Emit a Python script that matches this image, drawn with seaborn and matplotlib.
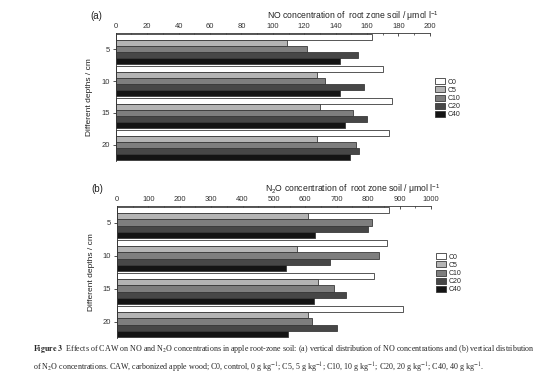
import pandas as pd
import matplotlib
matplotlib.use('Agg')
import matplotlib.pyplot as plt
import seaborn as sns
from matplotlib.ticker import MultipleLocator

# Data
depths = ['5', '10', '15', '20']
treatments = ['C0', 'C5', 'C10', 'C20', 'C40']
no_values = {
    'C0': [163, 170, 176, 174],
    'C5': [109, 128, 130, 128],
    'C10': [122, 133, 151, 153],
    'C20': [154, 158, 160, 155],
    'C40': [143, 143, 146, 149],
}
n2o_values = {
    'C0': [865, 860, 820, 910],
    'C5': [608, 572, 640, 608],
    'C10': [812, 835, 690, 620],
    'C20': [800, 678, 730, 700],
    'C40': [630, 538, 628, 545],
}
bar_colors = ['#ffffff', '#b4b4b4', '#7e7e7e', '#474747', '#141414']


def to_long(values):
    rows = []
    for t in treatments:
        for d, v in zip(depths, values[t]):
            rows.append({'depth': d, 'treatment': t, 'value': v})
    return pd.DataFrame(rows)


sns.set_style('ticks')
plt.rcParams['font.family'] = ['Liberation Sans', 'DejaVu Sans']
plt.rcParams['font.size'] = 5.5
plt.rcParams['mathtext.fontset'] = 'custom'
plt.rcParams['mathtext.rm'] = 'Liberation Sans'
plt.rcParams['mathtext.it'] = 'Liberation Sans:italic'
plt.rcParams['mathtext.bf'] = 'Liberation Sans:bold'

fig = plt.figure(figsize=(5.54, 3.76), dpi=100)
ax_a = fig.add_axes([0.209, 0.572, 0.567, 0.340])
ax_b = fig.add_axes([0.211, 0.101, 0.567, 0.351])

panels = [
    (ax_a, no_values, 200, 20, 10, 'NO concentration of  root zone soil / μmol l$^{-1}$', '(a)'),
    (ax_b, n2o_values, 1000, 100, 50, 'N$_2$O concentration of  root zone soil / μmol l$^{-1}$', '(b)'),
]

for ax, vals, xmax, major, minor, xlabel, tag in panels:
    df = to_long(vals)
    sns.barplot(data=df, y='depth', x='value', hue='treatment', order=depths,
                hue_order=treatments, palette=bar_colors, orient='h',
                width=0.93, edgecolor='#3a3a3a', linewidth=0.6, ax=ax,
                saturation=1)
    ax.set_xlim(0, xmax)
    ax.set_ylim(3.5, -0.5)
    ax.xaxis.set_major_locator(MultipleLocator(major))
    ax.xaxis.set_minor_locator(MultipleLocator(minor))
    ax.xaxis.tick_top()
    ax.xaxis.set_label_position('top')
    ax.tick_params(axis='x', which='major', direction='in', length=2.5,
                   width=0.6, labelsize=5.5, pad=2, colors='#333333')
    ax.tick_params(axis='x', which='minor', direction='in', length=1.5,
                   width=0.5, colors='#333333')
    ax.tick_params(axis='y', direction='out', length=2.5, width=0.6,
                   labelsize=5.5, pad=1.5, colors='#333333')
    for s in ['right', 'bottom']:
        ax.spines[s].set_visible(False)
    for s in ['top', 'left']:
        ax.spines[s].set_linewidth(0.6)
        ax.spines[s].set_color('#333333')
    ax.set_xlabel(xlabel, fontsize=6.2, loc='right', labelpad=3, color='#222222')
    ax.xaxis.get_label().set_x(1.03)
    ax.set_ylabel('Different depths / cm', fontsize=6, labelpad=6, color='#222222')
    ax.text(-0.08, 1.11, tag, transform=ax.transAxes, fontsize=7, color='#222222')
    ax.legend(loc='center left', bbox_to_anchor=(1.0, 0.49), frameon=False,
              fontsize=5, handlelength=1.5, handleheight=0.95,
              labelspacing=0.12, handletextpad=0.3, borderaxespad=0.3)

caption = ('$\\bf{Figure\\ 3}$  Effects of CAW on NO and N$_2$O concentrations in apple root-zone soil: '
           '(a) vertical distribution of NO concentrations and (b) vertical distribution\n'
           'of N$_2$O concentrations. CAW, carbonized apple wood; C0, control, 0 g kg$^{-1}$; '
           'C5, 5 g kg$^{-1}$; C10, 10 g kg$^{-1}$; C20, 20 g kg$^{-1}$; C40, 40 g kg$^{-1}$.')
fig.text(0.06, 0.045, caption, fontsize=5.8, family=['Liberation Serif', 'DejaVu Serif'],
         math_fontfamily='stix', va='center', ha='left', linespacing=1.55)

plt.savefig('out.png', dpi=100)
